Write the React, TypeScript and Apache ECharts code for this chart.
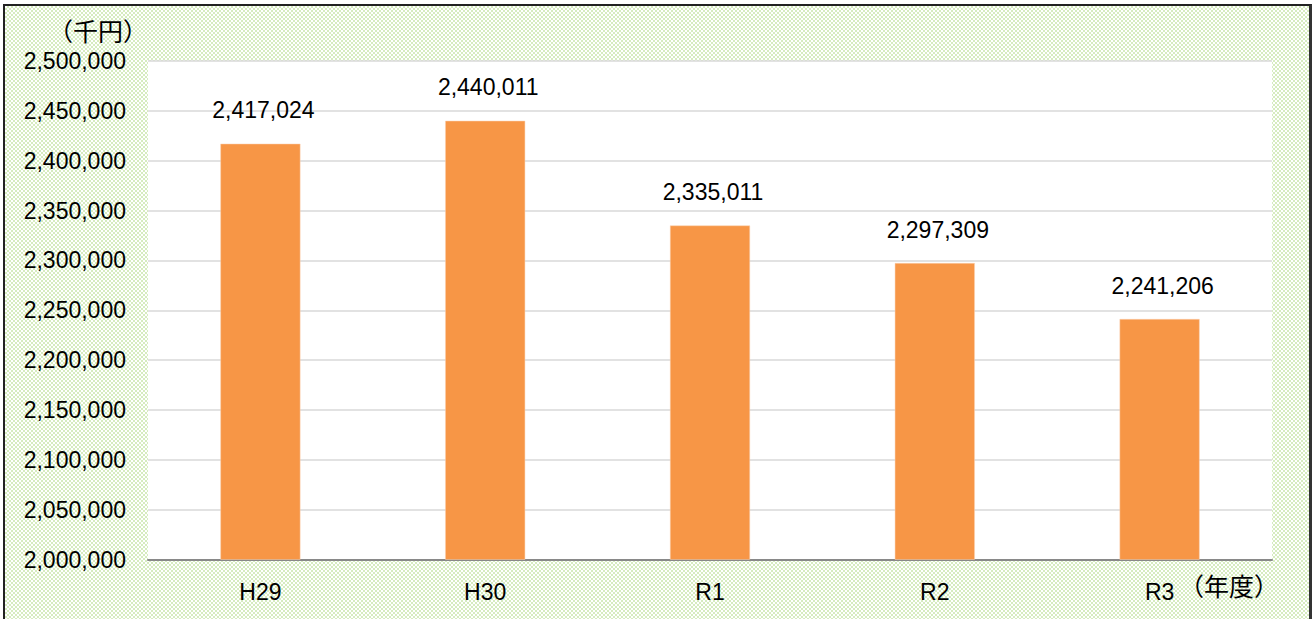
import React, { useEffect, useRef } from "react";
import * as echarts from "echarts";

const categories = ["H29", "H30", "R1", "R2", "R3"];
const values = [2417024, 2440011, 2335011, 2297309, 2241206];
const yMin = 2000000;
const yMax = 2500000;
const yStep = 50000;
const yUnit = "（千円）";
const xUnit = "（年度）";

const fmt = (v: number) => v.toLocaleString("en-US");
const FONT = "'Liberation Sans', Arial, sans-serif";
const CJK = "'Noto Sans CJK JP', sans-serif";

export default function App() {
  const ref = useRef<HTMLDivElement>(null);
  useEffect(() => {
    document.body.style.margin = "0";
    const chart = echarts.init(ref.current!, null, { renderer: "svg" });
    chart.setOption({
      animation: false,
      backgroundColor: "transparent",
      grid: { left: 148, right: 42, top: 61, bottom: 59.5, backgroundColor: "#ffffff", show: true, borderWidth: 0 },
      xAxis: {
        type: "category",
        data: categories,
        axisLine: { lineStyle: { color: "#898989", width: 2 } },
        axisTick: { show: false },
        axisLabel: { color: "#000", fontSize: 23, fontFamily: FONT, margin: 21 },
      },
      yAxis: {
        type: "value",
        min: yMin,
        max: yMax,
        interval: yStep,
        axisLine: { show: false },
        axisTick: { show: false },
        splitLine: { lineStyle: { color: "#d9d9d9", width: 1.5 } },
        axisLabel: { color: "#000", fontSize: 23, fontFamily: FONT, margin: 22, formatter: (v: number) => fmt(v) },
      },
      series: [
        {
          type: "bar",
          data: values,
          barWidth: 80,
          itemStyle: { color: "#f79646", borderColor: "#fbd2b4", borderWidth: 0.5 },
          label: {
            show: true,
            position: "top",
            distance: 22,
            offset: [3, 0],
            color: "#000",
            fontSize: 23,
            fontFamily: FONT,
            formatter: (p: any) => fmt(p.value),
          },
        },
      ],
      graphic: [
        {
          type: "text",
          right: 1314 - 148,
          top: 17,
          style: { text: yUnit, fontSize: 25, fontFamily: CJK, fill: "#000" },
        },
        {
          type: "text",
          left: 1179,
          top: 572,
          style: { text: xUnit, fontSize: 25, fontFamily: CJK, fill: "#000" },
        },
      ],
    });
    return () => chart.dispose();
  }, []);
  return (
    <div style={{ position: "relative", width: 1314, height: 619, background: "#fff", overflow: "hidden" }}>
      <div
        style={{
          position: "absolute",
          left: 3,
          top: 4,
          width: 1309,
          height: 630,
          boxSizing: "border-box",
          borderLeft: "2px solid #222",
          borderTop: "2px solid #222",
          borderRight: "3px solid #333",
          backgroundColor: "#ffffff",
          backgroundImage: "repeating-conic-gradient(#d6ecbf 0% 25%, #ffffff 0% 50%)",
          backgroundSize: "4px 4px",
        }}
      />
      <div ref={ref} style={{ position: "absolute", left: 0, top: 0, width: 1314, height: 619 }} />
    </div>
  );
}
